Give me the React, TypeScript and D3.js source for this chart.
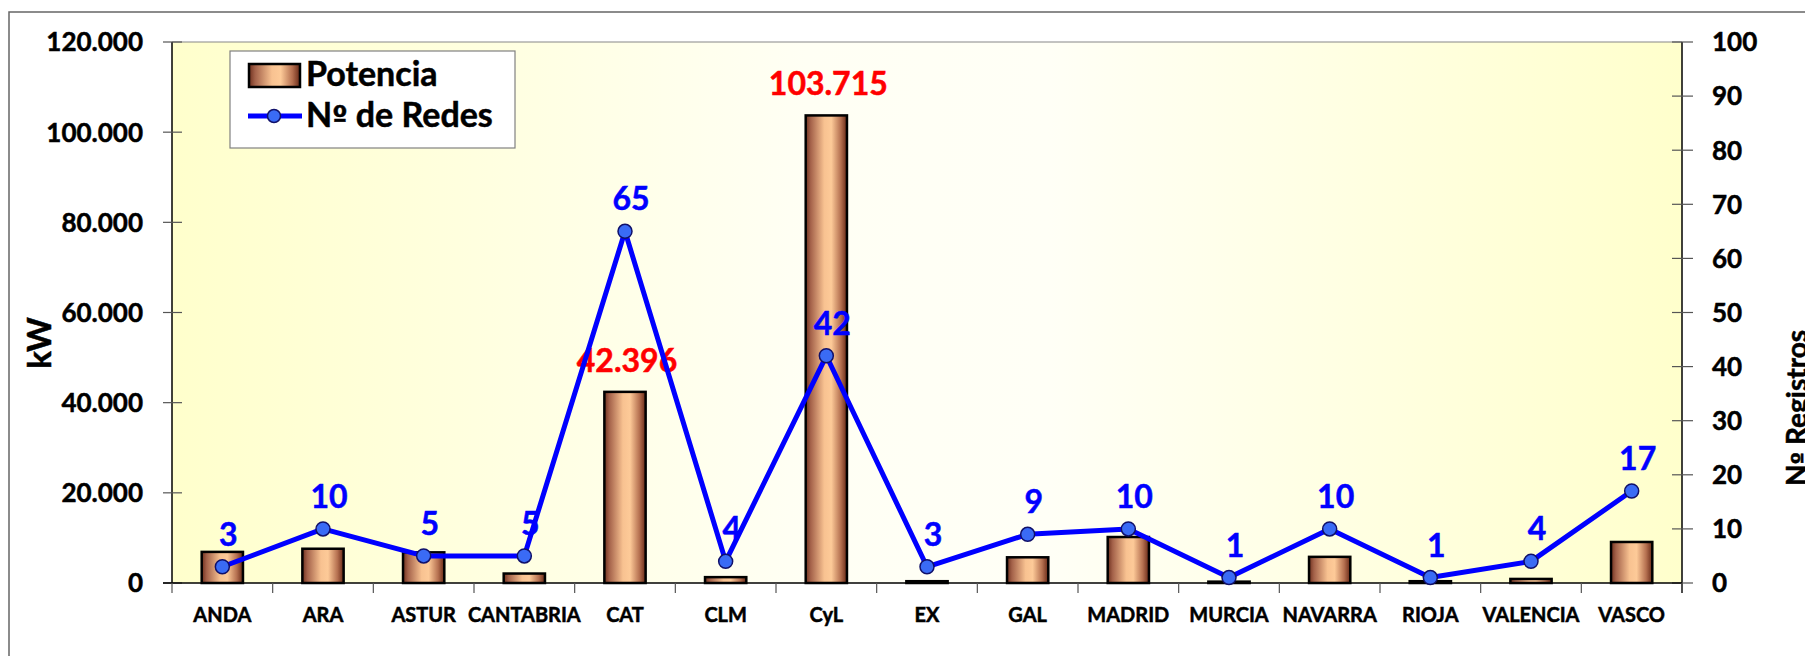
import React, { useEffect, useRef } from "react";
import * as d3 from "d3";

const categories = ["ANDA", "ARA", "ASTUR", "CANTABRIA", "CAT", "CLM", "CyL", "EX", "GAL", "MADRID", "MURCIA", "NAVARRA", "RIOJA", "VALENCIA", "VASCO"];
// kW per region
const potencia = [6900, 7600, 6800, 2100, 42396, 1300, 103715, 400, 5700, 10200, 300, 5800, 400, 900, 9100];
// number of networks per region
const redes = [3, 10, 5, 5, 65, 4, 42, 3, 9, 10, 1, 10, 1, 4, 17];
const leftTicks = [0, 20000, 40000, 60000, 80000, 100000, 120000];
const rightTicks = [0, 10, 20, 30, 40, 50, 60, 70, 80, 90, 100];
const labelledBars = ["CAT", "CyL"];

const FONT = "Lato, 'Open Sans', sans-serif";
const ORD_FONT = "'DejaVu Sans', 'Liberation Sans', sans-serif";

const App = () => {
  const ref = useRef<SVGSVGElement>(null);

  useEffect(() => {
    const svg = d3.select(ref.current);
    svg.selectAll("*").remove();

    const left = 172, right = 1682, top = 42, bottom = 583;
    const fmt = d3.formatLocale({ decimal: ",", thousands: ".", grouping: [3], currency: ["", ""] }).format(",d");

    const x = d3.scaleBand().domain(categories).range([left, right]);
    const yL = d3.scaleLinear().domain([0, 120000]).range([bottom, top]);
    const yR = d3.scaleLinear().domain([0, 100]).range([bottom, top]);
    const barW = x.bandwidth() * 0.41;
    const cx = (c: string) => (x(c) as number) + x.bandwidth() / 2;

    // bold text with a hairline stroke to get closer to the heavy original face
    const bold = (sel: any, size: number, color = "#000") =>
      sel.attr("font-family", FONT).attr("font-weight", "bold").attr("font-size", size)
        .attr("fill", color).attr("stroke", color).attr("stroke-width", 0.5);

    // "Nº ..." with the underlined ordinal drawn by hand (o + bar)
    const ordText = (sel: any, rest: string) => {
      sel.append("tspan").text("N");
      sel.append("tspan").attr("font-family", ORD_FONT).attr("font-size", "0.8em").attr("dy", "-0.02em").text("º");
      sel.append("tspan").attr("dy", "0.016em").text(rest);
    };

    const defs = svg.append("defs");
    const bg = defs.append("linearGradient").attr("id", "bg").attr("x1", 0).attr("x2", 1).attr("y1", 0).attr("y2", 0);
    [[0, "#ffffcc"], [0.42, "#fffff4"], [0.58, "#fffff6"], [1, "#ffffcc"]].forEach(([o, c]) =>
      bg.append("stop").attr("offset", o as number).attr("stop-color", c as string));
    const bar = defs.append("linearGradient").attr("id", "bar").attr("x1", 0).attr("x2", 1).attr("y1", 0).attr("y2", 0);
    [[0, "#6e301e"], [0.12, "#a4624a"], [0.45, "#f8c291"], [0.62, "#fdca98"], [0.85, "#b57050"], [1, "#672816"]].forEach(([o, c]) =>
      bar.append("stop").attr("offset", o as number).attr("stop-color", c as string));

    // outer chart border
    svg.append("rect").attr("x", 9).attr("y", 12).attr("width", 1820).attr("height", 700)
      .attr("fill", "white").attr("stroke", "#666").attr("stroke-width", 1.5);

    // plot area
    svg.append("rect").attr("x", left).attr("y", top).attr("width", right - left).attr("height", bottom - top)
      .attr("fill", "url(#bg)");
    svg.append("line").attr("x1", left).attr("x2", right).attr("y1", top).attr("y2", top)
      .attr("stroke", "#888").attr("stroke-width", 1.2);

    // left axis
    const gl = svg.append("g");
    gl.append("line").attr("x1", left).attr("x2", left).attr("y1", top).attr("y2", bottom).attr("stroke", "#000").attr("stroke-width", 1.5);
    leftTicks.forEach(t => {
      gl.append("line").attr("x1", left - 9).attr("x2", left + 10).attr("y1", yL(t)).attr("y2", yL(t)).attr("stroke", "#555").attr("stroke-width", 1.2);
      bold(gl.append("text").attr("x", 143).attr("y", yL(t)).attr("dy", "0.36em").attr("text-anchor", "end"), 26).text(fmt(t));
    });
    bold(svg.append("text").attr("transform", "translate(51,343) rotate(-90)").attr("text-anchor", "middle"), 33).text("kW");

    // right axis
    const gr = svg.append("g");
    gr.append("line").attr("x1", right).attr("x2", right).attr("y1", top).attr("y2", bottom + 10).attr("stroke", "#000").attr("stroke-width", 1.5);
    rightTicks.forEach(t => {
      gr.append("line").attr("x1", right - 10).attr("x2", right + 11).attr("y1", yR(t)).attr("y2", yR(t)).attr("stroke", "#555").attr("stroke-width", 1.2);
      bold(gr.append("text").attr("x", 1712).attr("y", yR(t)).attr("dy", "0.36em").attr("text-anchor", "start"), 26).text(String(t));
    });
    ordText(bold(svg.append("text").attr("transform", "translate(1807,486) rotate(-90)").attr("text-anchor", "start"), 28), " Registros");

    // bars
    svg.selectAll(".bar").data(categories).enter().append("rect")
      .attr("class", "bar")
      .attr("x", (c) => cx(c) - barW / 2)
      .attr("width", barW)
      .attr("y", (c, i) => yL(potencia[i]))
      .attr("height", (c, i) => bottom - yL(potencia[i]))
      .attr("fill", "url(#bar)").attr("stroke", "#000").attr("stroke-width", 2.5);

    // bottom axis
    const gb = svg.append("g");
    gb.append("line").attr("x1", left - 9).attr("x2", right).attr("y1", bottom).attr("y2", bottom).attr("stroke", "#000").attr("stroke-width", 1.5);
    categories.forEach((c, i) => {
      const bx = x(c) as number;
      gb.append("line").attr("x1", bx).attr("x2", bx).attr("y1", bottom).attr("y2", bottom + 10).attr("stroke", "#555").attr("stroke-width", 1.2);
      if (i === categories.length - 1) {
        gb.append("line").attr("x1", right).attr("x2", right).attr("y1", bottom).attr("y2", bottom + 10).attr("stroke", "#555").attr("stroke-width", 1.2);
      }
      bold(gb.append("text").attr("x", cx(c)).attr("y", 622).attr("text-anchor", "middle"), 20).text(c);
    });

    // bar labels
    categories.forEach((c, i) => {
      if (!labelledBars.includes(c)) return;
      bold(svg.append("text").attr("x", cx(c) + 2).attr("y", yL(potencia[i]) - 20).attr("text-anchor", "middle"), 32, "#ff0000")
        .text(fmt(potencia[i]));
    });

    // line
    const line = d3.line<number>().x((d, i) => cx(categories[i])).y(d => yR(d));
    svg.append("path").datum(redes).attr("d", line).attr("fill", "none").attr("stroke", "#0000ff").attr("stroke-width", 5).attr("stroke-linejoin", "round");
    svg.selectAll(".pt").data(redes).enter().append("circle")
      .attr("class", "pt")
      .attr("cx", (d, i) => cx(categories[i])).attr("cy", d => yR(d)).attr("r", 7)
      .attr("fill", "#3a6bf5").attr("stroke", "#10106a").attr("stroke-width", 1.5);
    bold(svg.selectAll(".ptl").data(redes).enter().append("text")
      .attr("class", "ptl")
      .attr("x", (d, i) => cx(categories[i]) + 6).attr("y", d => yR(d) - 21)
      .attr("text-anchor", "middle"), 32, "#0000ff")
      .text(d => String(d));

    // legend
    const lg = svg.append("g");
    lg.append("rect").attr("x", 230).attr("y", 51).attr("width", 285).attr("height", 97).attr("fill", "white").attr("stroke", "#808080").attr("stroke-width", 1.2);
    lg.append("rect").attr("x", 249).attr("y", 64).attr("width", 51).attr("height", 23).attr("fill", "url(#bar)").attr("stroke", "#000").attr("stroke-width", 2.5);
    bold(lg.append("text").attr("x", 306).attr("y", 86), 34).text("Potencia");
    lg.append("line").attr("x1", 248).attr("x2", 302).attr("y1", 116).attr("y2", 116).attr("stroke", "#0000ff").attr("stroke-width", 5);
    lg.append("circle").attr("cx", 274).attr("cy", 116).attr("r", 6.5).attr("fill", "#3a6bf5").attr("stroke", "#10106a").attr("stroke-width", 1.5);
    ordText(bold(lg.append("text").attr("x", 306).attr("y", 127), 34), " de Redes");
  }, []);

  return <svg ref={ref} width={1805} height={656} style={{ position: "absolute", left: 0, top: 0 }}></svg>;
};

export default App;
